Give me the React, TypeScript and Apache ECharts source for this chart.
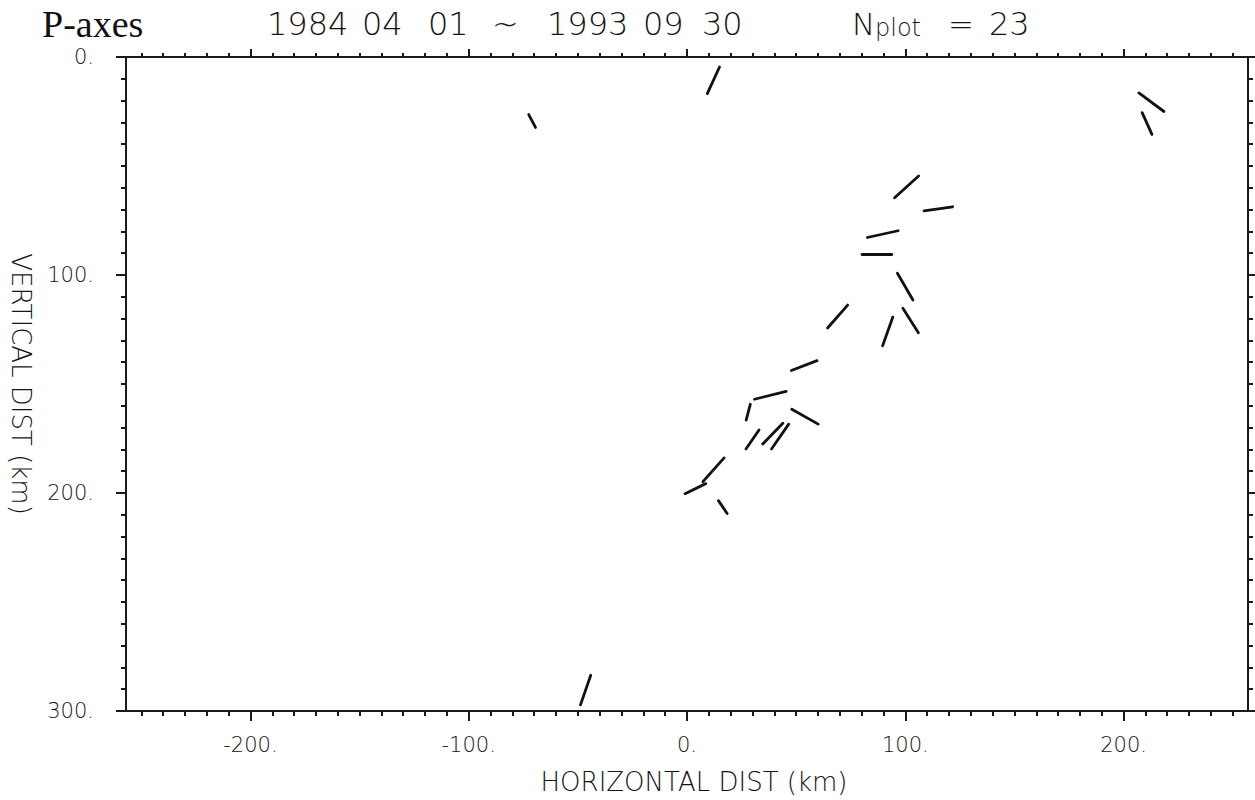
import React, { useEffect, useRef } from "react";
import * as echarts from "echarts";

// P-axis projections: each segment runs from a start point to an end point,
// given as [horizontal distance (km), depth (km)].
const pAxisStart: [number, number][] = [
  [14.9, 4.6],
  [-72.5, 26.4],
  [207.0, 16.5],
  [208.5, 25.5],
  [95.1, 64.6],
  [108.6, 70.6],
  [82.6, 82.8],
  [80.2, 90.6],
  [96.4, 99.2],
  [64.4, 124.3],
  [98.9, 115.2],
  [89.6, 132.5],
  [47.8, 143.8],
  [30.9, 157.0],
  [27.1, 166.6],
  [48.0, 161.6],
  [27.0, 179.8],
  [34.7, 177.5],
  [38.7, 179.8],
  [7.3, 194.8],
  [-0.9, 200.3],
  [14.4, 203.5],
  [-48.8, 297.2],
];

const pAxisEnd: [number, number][] = [
  [9.3, 16.8],
  [-69.4, 32.3],
  [218.5, 25.0],
  [213.0, 35.5],
  [106.1, 54.6],
  [121.7, 68.7],
  [96.7, 79.7],
  [93.8, 90.6],
  [103.5, 111.5],
  [73.6, 113.8],
  [106.0, 126.5],
  [94.3, 119.3],
  [59.6, 139.3],
  [45.4, 153.4],
  [29.0, 159.3],
  [60.1, 168.4],
  [33.0, 171.1],
  [43.9, 168.0],
  [46.6, 168.4],
  [17.0, 183.9],
  [8.6, 195.7],
  [18.4, 209.4],
  [-44.1, 283.6],
];

// Axis extents and tick positions (km)
const xRange: [number, number] = [-257, 257];
const yRange: [number, number] = [0, 300];
const xMajorTicks = [-200, -100, 0, 100, 200];
const xMinorTicks = [
  -250, -240, -230, -220, -210, -190, -180, -170, -160, -150, -140, -130, -120,
  -110, -90, -80, -70, -60, -50, -40, -30, -20, -10, 10, 20, 30, 40, 50, 60, 70,
  80, 90, 110, 120, 130, 140, 150, 160, 170, 180, 190, 210, 220, 230, 240, 250,
];
const yMajorTicks = [0, 100, 200, 300];
const yMinorTicks = [
  10, 20, 30, 40, 50, 60, 70, 80, 90, 110, 120, 130, 140, 150, 160, 170, 180,
  190, 210, 220, 230, 240, 250, 260, 270, 280, 290,
];

// Header pieces: [text, left x]
const periodParts: [string, number][] = [
  ["1984", 267],
  ["04", 362],
  ["01", 428],
  ["~", 492],
  ["1993", 547],
  ["09", 643],
  ["30", 702],
];
const nPlot = 23;

const INK = "#1a1a1a";
const TEXT_INK = "#151515";
const PLOT_FONT = "'DejaVu Sans', sans-serif";

const fmt = (v: number) => `${v}.`;

export default function App() {
  const ref = useRef<HTMLDivElement>(null);

  useEffect(() => {
    if (!ref.current) return;
    const chart = echarts.init(ref.current, null, { renderer: "svg" });

    const axisLine = { show: true, onZero: false, lineStyle: { color: INK, width: 2 } };
    const noLine = { show: false, onZero: false };
    const tickStyle = { color: INK, width: 2 };
    const labelStyle = {
      color: TEXT_INK,
      fontFamily: PLOT_FONT,
      fontWeight: 200 as any,
      fontSize: 21,
      lineHeight: 16,
    };
    const nameStyle = {
      color: TEXT_INK,
      fontFamily: PLOT_FONT,
      fontWeight: 200 as any,
      fontSize: 26,
    };

    const xAxisBase = {
      type: "value" as const,
      min: xRange[0],
      max: xRange[1],
      splitLine: { show: false },
    };
    const yAxisBase = {
      type: "value" as const,
      min: yRange[0],
      max: yRange[1],
      inverse: true,
      splitLine: { show: false },
    };

    const xAxes = [
      {
        ...xAxisBase,
        position: "bottom",
        axisLine,
        axisTick: { show: true, length: 10, customValues: xMajorTicks, lineStyle: tickStyle },
        axisLabel: { ...labelStyle, margin: 26, customValues: xMajorTicks, formatter: fmt },
        name: "HORIZONTAL DIST (km)",
        nameLocation: "middle",
        nameGap: 58,
        nameTextStyle: { ...nameStyle, padding: [0, 0, 0, 14] },
      },
      {
        ...xAxisBase,
        position: "bottom",
        axisLine: noLine,
        axisTick: { show: true, length: 5, customValues: xMinorTicks, lineStyle: tickStyle },
        axisLabel: { show: false },
      },
      {
        ...xAxisBase,
        position: "top",
        axisLine,
        axisTick: { show: true, length: 8, customValues: xMajorTicks, lineStyle: tickStyle },
        axisLabel: { show: false },
      },
      {
        ...xAxisBase,
        position: "top",
        axisLine: noLine,
        axisTick: { show: true, length: 4, customValues: xMinorTicks, lineStyle: tickStyle },
        axisLabel: { show: false },
      },
    ];

    const yAxes = [
      {
        ...yAxisBase,
        position: "left",
        axisLine,
        axisTick: { show: true, length: 10, customValues: yMajorTicks, lineStyle: tickStyle },
        axisLabel: { ...labelStyle, margin: 32, customValues: yMajorTicks, formatter: fmt },
        name: "VERTICAL DIST (km)",
        nameLocation: "middle",
        nameRotate: -90,
        nameGap: 92,
        nameTextStyle: nameStyle,
      },
      {
        ...yAxisBase,
        position: "left",
        axisLine: noLine,
        axisTick: { show: true, length: 5, customValues: yMinorTicks, lineStyle: tickStyle },
        axisLabel: { show: false },
      },
      {
        ...yAxisBase,
        position: "right",
        axisLine,
        axisTick: { show: true, length: 8, customValues: yMajorTicks, lineStyle: tickStyle },
        axisLabel: { show: false },
      },
      {
        ...yAxisBase,
        position: "right",
        axisLine: noLine,
        axisTick: { show: true, length: 5, customValues: yMinorTicks, lineStyle: tickStyle },
        axisLabel: { show: false },
      },
    ];

    const segments = pAxisStart.map((s, i) => ({ coords: [s, pAxisEnd[i]] }));

    const headerFont = { fontFamily: PLOT_FONT, fontWeight: 200, fill: TEXT_INK };

    chart.setOption({
      animation: false,
      backgroundColor: "#ffffff",
      grid: { left: 112, right: 7, top: 57, bottom: 84, containLabel: false },
      xAxis: xAxes,
      yAxis: yAxes,
      graphic: [
        {
          type: "text",
          left: 42,
          top: 5,
          style: {
            text: "P-axes",
            font: "38px 'Liberation Serif', serif",
            lineHeight: 30,
            fill: "#111",
          },
        },
        ...periodParts.map(([t, x]) => ({
          type: "text",
          left: x,
          top: 8,
          style: { ...headerFont, text: t, fontSize: 32, lineHeight: 32 },
        })),
        {
          type: "text",
          left: 852,
          top: 8,
          style: { ...headerFont, text: "N", fontSize: 31, lineHeight: 32 },
        },
        {
          type: "text",
          left: 875,
          top: 15,
          style: { ...headerFont, text: "plot", fontSize: 24, lineHeight: 26 },
        },
        {
          type: "text",
          left: 948,
          top: 8,
          style: { ...headerFont, text: "=", fontSize: 31, lineHeight: 32 },
        },
        {
          type: "text",
          left: 989,
          top: 8,
          style: { ...headerFont, text: String(nPlot), fontSize: 32, lineHeight: 32 },
        },
      ],
      series: [
        {
          type: "lines",
          coordinateSystem: "cartesian2d",
          xAxisIndex: 0,
          yAxisIndex: 0,
          silent: true,
          lineStyle: { color: "#111", width: 2.8, opacity: 1, cap: "round" },
          data: segments,
        },
      ],
    });

    return () => chart.dispose();
  }, []);

  return (
    <div
      ref={ref}
      style={{ position: "fixed", left: 0, top: 0, width: 1255, height: 800, background: "#fff" }}
    />
  );
}
